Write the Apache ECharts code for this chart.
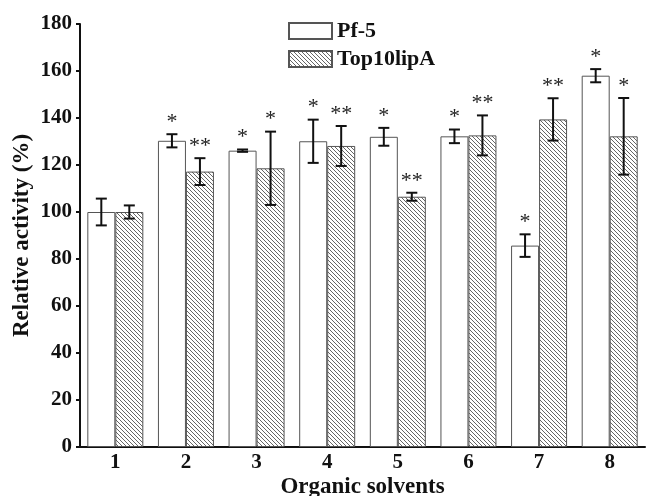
<!DOCTYPE html>
<html>
<head>
<meta charset="utf-8">
<script src="https://cdn.jsdelivr.net/npm/echarts@6/dist/echarts.min.js"></script>
<style>
html,body{margin:0;padding:0;background:#fff;}
#chart{width:652px;height:496px;}
</style>
</head>
<body>
<div id="chart"></div>
<script>
const categories = ['1','2','3','4','5','6','7','8'];
const pf5Values = [100, 130.3, 126.1, 130.1, 132.0, 132.2, 85.7, 158.0];
const pf5Errors = [5.7, 2.8, 0.5, 9.2, 3.8, 2.9, 4.8, 2.8];
const pf5Marks = ['', '*', '*', '*', '*', '*', '*', '*'];
const lipValues = [100, 117.2, 118.6, 128.1, 106.5, 132.6, 139.4, 132.2];
const lipErrors = [2.8, 5.7, 15.6, 8.5, 1.7, 8.5, 9.0, 16.3];
const lipMarks = ['', '**', '*', '**', '**', '**', '**', '*'];
const yTicks = {min: 0, max: 180, interval: 20};

const FONT = '"Liberation Serif", "Times New Roman", serif';
const FS = 21;
const NAME_FS = 23;
const BAR_W = 28;

function hatch() {
  const c = document.createElement('canvas');
  c.width = 4; c.height = 4;
  const g = c.getContext('2d');
  g.fillStyle = '#fff';
  g.fillRect(0, 0, 4, 4);
  g.strokeStyle = '#555';
  g.lineWidth = 0.9;
  g.beginPath();
  g.moveTo(-1, -1); g.lineTo(5, 5);
  g.moveTo(-1, 3); g.lineTo(1, 5);
  g.moveTo(3, -1); g.lineTo(5, 1);
  g.stroke();
  return c;
}

function errSeries(values, errors, marks, offset) {
  const data = values.map((v, i) => [i, v, errors[i]]);
  return {
    type: 'custom',
    z: 5,
    data: data,
    renderItem: function (params, api) {
      const i = api.value(0);
      const v = api.value(1);
      const e = api.value(2);
      const mark = marks[i];
      const hi = api.coord([i, v + e]);
      const lo = api.coord([i, v - e]);
      const x = hi[0] + offset;
      const cap = 5.5;
      const children = [
        {type: 'line', shape: {x1: x, y1: hi[1], x2: x, y2: lo[1]}, style: {stroke: '#111', lineWidth: 2}},
        {type: 'line', shape: {x1: x - cap, y1: hi[1], x2: x + cap, y2: hi[1]}, style: {stroke: '#111', lineWidth: 2}},
        {type: 'line', shape: {x1: x - cap, y1: lo[1], x2: x + cap, y2: lo[1]}, style: {stroke: '#111', lineWidth: 2}}
      ];
      if (mark) {
        children.push({
          type: 'text',
          style: {
            text: mark, x: x, y: hi[1] - 1,
            align: 'center', verticalAlign: 'bottom',
            font: '22px ' + FONT, fill: '#222'
          }
        });
      }
      return {type: 'group', children: children};
    }
  };
}

const chart = echarts.init(document.getElementById('chart'), null, {renderer: 'canvas'});
chart.setOption({
  animation: false,
  backgroundColor: '#fff',
  grid: {left: 80, right: 7, top: 24, bottom: 49, containLabel: false, outerBoundsMode: 'none'},
  legend: {
    left: 288, top: 20, orient: 'vertical', padding: 0,
    itemWidth: 43, itemHeight: 16, itemGap: 6,
    icon: 'rect',
    textStyle: {fontFamily: FONT, fontWeight: 'bold', fontSize: 22, color: '#111'},
    data: ['Pf-5', 'Top10lipA']
  },
  xAxis: {
    type: 'category',
    data: categories,
    name: 'Organic solvents',
    nameLocation: 'middle',
    nameGap: 29,
    nameMoveOverlap: false,
    nameTextStyle: {fontFamily: FONT, fontWeight: 'bold', fontSize: NAME_FS, color: '#111'},
    axisLine: {lineStyle: {color: '#111', width: 2}},
    axisTick: {inside: true, length: 7, lineStyle: {color: '#111', width: 2}},
    axisLabel: {fontFamily: FONT, fontWeight: 'bold', fontSize: FS, color: '#111', margin: 5},
    splitLine: {show: false}
  },
  yAxis: {
    type: 'value',
    min: yTicks.min, max: yTicks.max, interval: yTicks.interval,
    name: 'Relative activity (%)',
    nameLocation: 'middle',
    nameRotate: 90,
    nameGap: 46,
    nameMoveOverlap: false,
    nameTextStyle: {fontFamily: FONT, fontWeight: 'bold', fontSize: NAME_FS, color: '#111'},
    axisLine: {show: true, lineStyle: {color: '#111', width: 2}},
    axisTick: {show: true, inside: false, length: 4, lineStyle: {color: '#111', width: 2}},
    axisLabel: {fontFamily: FONT, fontWeight: 'bold', fontSize: FS, color: '#111', margin: 8},
    splitLine: {show: false}
  },
  series: [
    {
      name: 'Pf-5', type: 'bar', data: pf5Values, barWidth: BAR_W, barGap: '0%',
      itemStyle: {color: '#fff', borderColor: '#555', borderWidth: 1}
    },
    {
      name: 'Top10lipA', type: 'bar', data: lipValues, barWidth: BAR_W, barGap: '0%',
      itemStyle: {color: {image: hatch(), repeat: 'repeat'}, borderColor: '#555', borderWidth: 1}
    },
    errSeries(pf5Values, pf5Errors, pf5Marks, -BAR_W / 2),
    errSeries(lipValues, lipErrors, lipMarks, BAR_W / 2)
  ]
});
</script>
</body>
</html>
